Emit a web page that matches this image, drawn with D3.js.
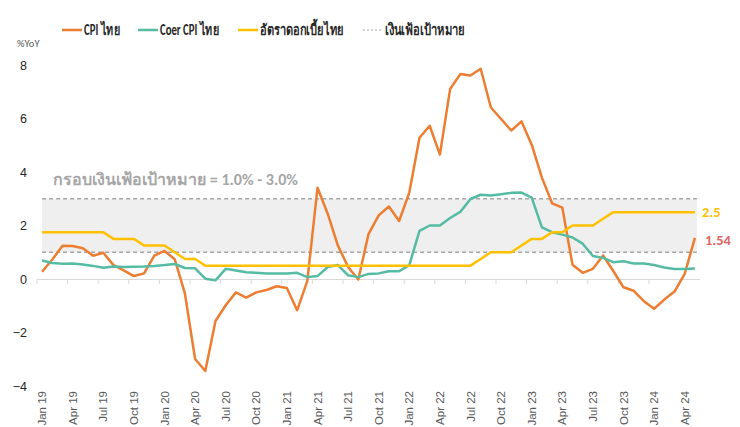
<!DOCTYPE html>
<html>
<head>
<meta charset="utf-8">
<script src="https://cdn.jsdelivr.net/npm/d3@7"></script>
<style>
  body { margin: 0; background: #fff; }
  svg { font-family: Carlito, "Liberation Sans Narrow", "Noto Sans", "DejaVu Sans", sans-serif; }
</style>
</head>
<body>
<script>
var width = 740,
    height = 427;

// months Jan 2019 .. May 2024
var yearsShort = ["19", "20", "21", "22", "23", "24"];
var monthNames = ["Jan", "Feb", "Mar", "Apr", "May", "Jun", "Jul", "Aug", "Sep", "Oct", "Nov", "Dec"];
var months = [];
yearsShort.forEach(function(y) {
    monthNames.forEach(function(m) { months.push(m + " " + y); });
});
months = months.slice(0, 65);

// CPI ไทย (%YoY)
var cpi = [0.27, 0.73, 1.24, 1.23, 1.15, 0.87, 0.98, 0.52, 0.32, 0.11, 0.21, 0.87,
           1.05, 0.74, -0.54, -2.99, -3.44, -1.57, -0.98, -0.50, -0.70, -0.50, -0.41, -0.27,
           -0.34, -1.17, -0.08, 3.41, 2.44, 1.25, 0.45, -0.02, 1.68, 2.38, 2.71, 2.17,
           3.23, 5.28, 5.73, 4.65, 7.10, 7.66, 7.61, 7.86, 6.41, 5.98, 5.55, 5.89,
           5.02, 3.79, 2.83, 2.67, 0.53, 0.23, 0.38, 0.88, 0.30, -0.31, -0.44, -0.83,
           -1.11, -0.77, -0.47, 0.19, 1.54];

// Core CPI ไทย
var core = [0.69, 0.60, 0.57, 0.58, 0.54, 0.49, 0.42, 0.47, 0.45, 0.46, 0.47, 0.49,
            0.52, 0.56, 0.41, 0.40, 0.01, -0.05, 0.38, 0.32, 0.25, 0.23, 0.21, 0.21,
            0.21, 0.23, 0.07, 0.11, 0.45, 0.52, 0.14, 0.07, 0.19, 0.21, 0.29, 0.29,
            0.52, 1.80, 2.00, 2.00, 2.28, 2.51, 2.99, 3.15, 3.12, 3.17, 3.22, 3.23,
            3.04, 1.93, 1.75, 1.66, 1.55, 1.32, 0.86, 0.79, 0.63, 0.66, 0.58, 0.58,
            0.52, 0.43, 0.37, 0.37, 0.39];

// อัตราดอกเบี้ยนโยบาย
var policy = [1.75, 1.75, 1.75, 1.75, 1.75, 1.75, 1.75, 1.50, 1.50, 1.50, 1.25, 1.25,
              1.25, 1.00, 0.75, 0.75, 0.50, 0.50, 0.50, 0.50, 0.50, 0.50, 0.50, 0.50,
              0.50, 0.50, 0.50, 0.50, 0.50, 0.50, 0.50, 0.50, 0.50, 0.50, 0.50, 0.50,
              0.50, 0.50, 0.50, 0.50, 0.50, 0.50, 0.50, 0.75, 1.00, 1.00, 1.00, 1.25,
              1.50, 1.50, 1.75, 1.75, 2.00, 2.00, 2.00, 2.25, 2.50, 2.50, 2.50, 2.50,
              2.50, 2.50, 2.50, 2.50, 2.50];

var targetBand = [1.0, 3.0];
var yTicks = [-4, -2, 0, 2, 4, 6, 8];

var svg = d3.select("body").append("svg")
    .attr("width", width)
    .attr("height", height);

var x = d3.scaleBand()
    .domain(months)
    .range([37, 700])
    .padding(0);

var bw = x.bandwidth();
function cx(m) { return x(m) + bw / 2; }

var y = d3.scaleLinear()
    .domain([-4, 8])
    .range([386, 65]);

// target band
var first = cx(months[0]), last = cx(months[months.length - 1]) + 2;
svg.append("rect")
    .attr("x", first)
    .attr("y", y(targetBand[1]))
    .attr("width", last - first)
    .attr("height", y(targetBand[0]) - y(targetBand[1]))
    .style("fill", "#efefef");

svg.selectAll(".target")
    .data(targetBand)
    .enter().append("line")
    .attr("class", "target")
    .attr("x1", first)
    .attr("x2", last)
    .attr("y1", function(d) { return y(d); })
    .attr("y2", function(d) { return y(d); })
    .style("stroke", "#a6a6a6")
    .style("stroke-width", 1.5)
    .style("stroke-dasharray", "4,3");

// x axis line with ticks at zero
var tickMonths = months.filter(function(d, i) { return i % 3 === 0; });

var xAxis = svg.append("g")
    .attr("transform", "translate(0," + y(0) + ")")
    .call(d3.axisBottom(x).tickValues(tickMonths).tickSize(5).tickFormat(""));
xAxis.select(".domain").style("stroke", "#d9d9d9").attr("d", "M" + x.range()[0] + ",0.5H" + x.range()[1]);
xAxis.selectAll(".tick line")
    .attr("x1", -bw / 2).attr("x2", -bw / 2)
    .style("stroke", "#d9d9d9");

// x labels at bottom
var xLab = svg.append("g")
    .attr("transform", "translate(0,391)")
    .call(d3.axisBottom(x).tickValues(tickMonths).tickSize(0));
xLab.select(".domain").remove();
xLab.selectAll("text")
    .attr("transform", "rotate(-90)")
    .attr("x", 0)
    .attr("y", 0)
    .attr("dy", "0.35em")
    .style("text-anchor", "end")
    .style("font-size", "11.5px")
    .style("font-family", "inherit")
    .style("fill", "#595959");

// y axis labels
var yAxis = svg.append("g")
    .attr("transform", "translate(30,0)")
    .call(d3.axisLeft(y).tickValues(yTicks).tickSize(0).tickPadding(3));
yAxis.select(".domain").remove();
yAxis.selectAll("text")
    .style("font-size", "12.5px")
    .style("font-family", "inherit")
    .style("fill", "#262626");

svg.append("text")
    .attr("x", 17)
    .attr("y", 47)
    .text("%YoY")
    .style("font-size", "10.5px")
    .style("fill", "#595959");

// series lines
var line = d3.line()
    .x(function(d, i) { return cx(months[i]); })
    .y(function(d) { return y(d); });

var series = [
    {name: "CPI ไทย", values: cpi, color: "#ed7d31"},
    {name: "Coer CPI ไทย", values: core, color: "#55bba3"},
    {name: "อัตราดอกเบี้ยไทย", values: policy, color: "#ffc000"}
];

svg.selectAll(".series")
    .data(series)
    .enter().append("path")
    .attr("class", "series")
    .attr("d", function(d) { return line(d.values); })
    .style("fill", "none")
    .style("stroke", function(d) { return d.color; })
    .style("stroke-width", 2.5)
    .style("stroke-linejoin", "round");

// annotation
svg.append("text")
    .attr("x", 53)
    .attr("y", 185)
    .attr("textLength", 245)
    .attr("lengthAdjust", "spacingAndGlyphs")
    .text("กรอบเงินเฟ้อเป้าหมาย = 1.0% - 3.0%")
    .style("font-size", "16px")
    .style("font-weight", "bold")
    .style("fill", "#a6a6a6");

// end labels
svg.append("text")
    .attr("x", 702)
    .attr("y", y(policy[policy.length - 1]))
    .attr("dy", "0.35em")
    .text("2.5")
    .style("font-size", "14.5px")
    .style("font-weight", "bold")
    .style("fill", "#ffc000");

svg.append("text")
    .attr("x", 705)
    .attr("y", 240)
    .attr("dy", "0.35em")
    .text("1.54")
    .style("font-size", "14.5px")
    .style("font-weight", "bold")
    .style("fill", "#e06666");

// legend
var legendItems = [
    {name: "CPI ไทย", color: "#ed7d31", x: 62, w: 36, dash: null},
    {name: "Coer CPI ไทย", color: "#55bba3", x: 138, w: 59, dash: null},
    {name: "อัตราดอกเบี้ยไทย", color: "#ffc000", x: 238, w: 84, dash: null},
    {name: "เงินเฟ้อเป้าหมาย", color: "#a6a6a6", x: 363, w: 80, dash: "2,2"}
];

var legend = svg.selectAll(".legend")
    .data(legendItems)
    .enter().append("g")
    .attr("class", "legend")
    .attr("transform", function(d) { return "translate(" + d.x + ",30)"; });

legend.append("line")
    .attr("x1", 0).attr("x2", 20)
    .style("stroke", function(d) { return d.color; })
    .style("stroke-width", function(d) { return d.dash ? 1.2 : 2.5; })
    .style("stroke-dasharray", function(d) { return d.dash; });

legend.append("text")
    .attr("x", 22)
    .attr("dy", "0.35em")
    .attr("textLength", function(d) { return d.w; })
    .attr("lengthAdjust", "spacingAndGlyphs")
    .text(function(d) { return d.name; })
    .style("font-size", "15px")
    .style("font-weight", "bold")
    .style("fill", "#262626");
</script>
</body>
</html>
